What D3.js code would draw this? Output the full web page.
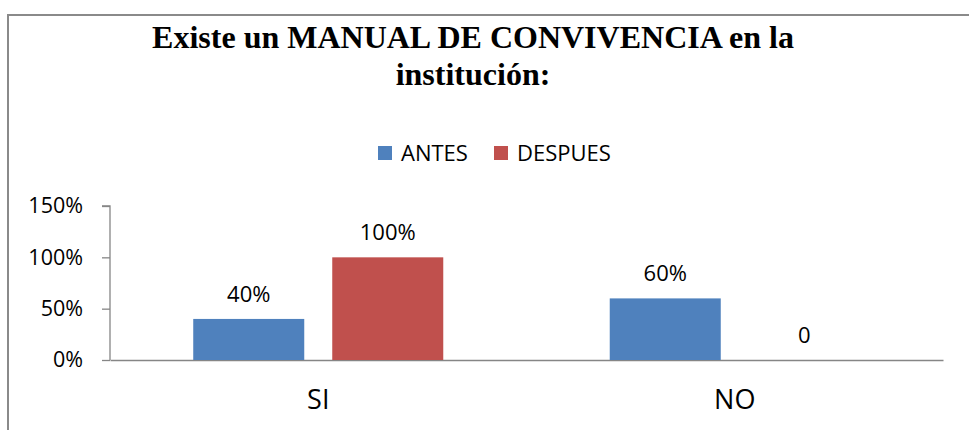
<!DOCTYPE html>
<html><head><meta charset="utf-8">
<script src="https://cdn.jsdelivr.net/npm/d3@7/dist/d3.min.js"></script>
<style>html,body{margin:0;padding:0;background:#fff;}svg{display:block;}</style>
</head><body>
<svg id="chart" width="969" height="430"></svg>
<script>
const categories = ["SI", "NO"];
const seriesNames = ["ANTES", "DESPUES"];
const antes = [0.40, 0.60];
const despues = [1.00, 0];
const dataLabels = [["40%", "100%"], ["60%", "0"]];
const yTicks = [0, 0.5, 1.0, 1.5];
const titleLines = ["Existe un MANUAL DE CONVIVENCIA en la", "institución:"];
const colors = ["#4F81BD", "#C0504D"];

const svg = d3.select("#chart");
const sans = "'Open Sans', 'Noto Sans', sans-serif";

// frame
svg.append("rect").attr("x", 8).attr("y", 15).attr("width", 1000).attr("height", 500)
  .attr("fill", "#fff").attr("stroke", "#8a8a8a").attr("stroke-width", 2);

// title
svg.append("g").selectAll("text").data(titleLines).join("text")
  .attr("x", 473).attr("y", (d, i) => 48 + i * 37)
  .attr("text-anchor", "middle")
  .attr("font-family", "'Liberation Serif', 'Times New Roman', serif")
  .attr("font-weight", "bold").attr("font-size", 32).attr("fill", "#000")
  .text(d => d);

const plot = {left: 110, right: 943, top: 206, bottom: 360};
const y = d3.scaleLinear().domain([0, 1.5]).range([plot.bottom, plot.top]);
const x0 = d3.scaleBand().domain(categories).range([plot.left, plot.right]).padding(0);
const x1 = d3.scaleBand().domain(seriesNames).range([0, x0.bandwidth()])
  .paddingInner(0.2014).paddingOuter(0.5988);

// y axis
const yAxis = d3.axisLeft(y).tickValues(yTicks).tickFormat(d3.format(".0%")).tickSize(8).tickPadding(19);
const gy = svg.append("g").attr("transform", `translate(${plot.left},0)`).call(yAxis);
gy.select(".domain").attr("stroke", "#868686").attr("stroke-width", 1.3).attr("d", `M-8,${plot.top}H0V${plot.bottom}`);
gy.selectAll(".tick line").attr("stroke", "#868686").attr("stroke-width", 1.3);
gy.selectAll(".tick text").attr("font-family", sans).attr("font-size", 21.5).attr("fill", "#000");

// x axis
const xAxis = d3.axisBottom(x0).tickSize(0).tickPadding(30);
const gx = svg.append("g").attr("transform", `translate(0,${plot.bottom})`).call(xAxis);
gx.select(".domain").attr("stroke", "#868686").attr("stroke-width", 1.3);
gx.selectAll(".tick text").attr("font-family", sans).attr("font-size", 27).attr("fill", "#000");

// bars
const rows = categories.map((c, i) => ({cat: c, vals: [antes[i], despues[i]], labels: dataLabels[i]}));
const groups = svg.append("g").selectAll("g").data(rows).join("g")
  .attr("transform", d => `translate(${x0(d.cat)},0)`);
groups.selectAll("rect").data(d => d.vals.map((v, j) => ({s: seriesNames[j], v, j})))
  .join("rect")
  .attr("x", d => x1(d.s)).attr("width", x1.bandwidth())
  .attr("y", d => y(d.v)).attr("height", d => plot.bottom - y(d.v))
  .attr("fill", d => colors[d.j]);
groups.selectAll("text.lbl").data(d => d.vals.map((v, j) => ({s: seriesNames[j], v, j, t: d.labels[j]})))
  .join("text").attr("class", "lbl")
  .attr("x", d => x1(d.s) + x1.bandwidth() / 2)
  .attr("y", d => y(d.v) - 25)
  .attr("dy", "0.35em")
  .attr("text-anchor", "middle")
  .attr("font-family", sans).attr("font-size", 22).attr("fill", "#000")
  .text(d => d.t);

// legend
const legendX = [378, 494];
const lg = svg.append("g").selectAll("g").data(seriesNames).join("g")
  .attr("transform", (d, i) => `translate(${legendX[i]},146)`);
lg.append("rect").attr("width", 14).attr("height", 14).attr("fill", (d, i) => colors[i]);
lg.append("text").attr("x", 23).attr("y", 7).attr("dy", "0.35em")
  .attr("font-family", sans).attr("font-size", 22).attr("fill", "#000").text(d => d);
</script>
</body></html>
